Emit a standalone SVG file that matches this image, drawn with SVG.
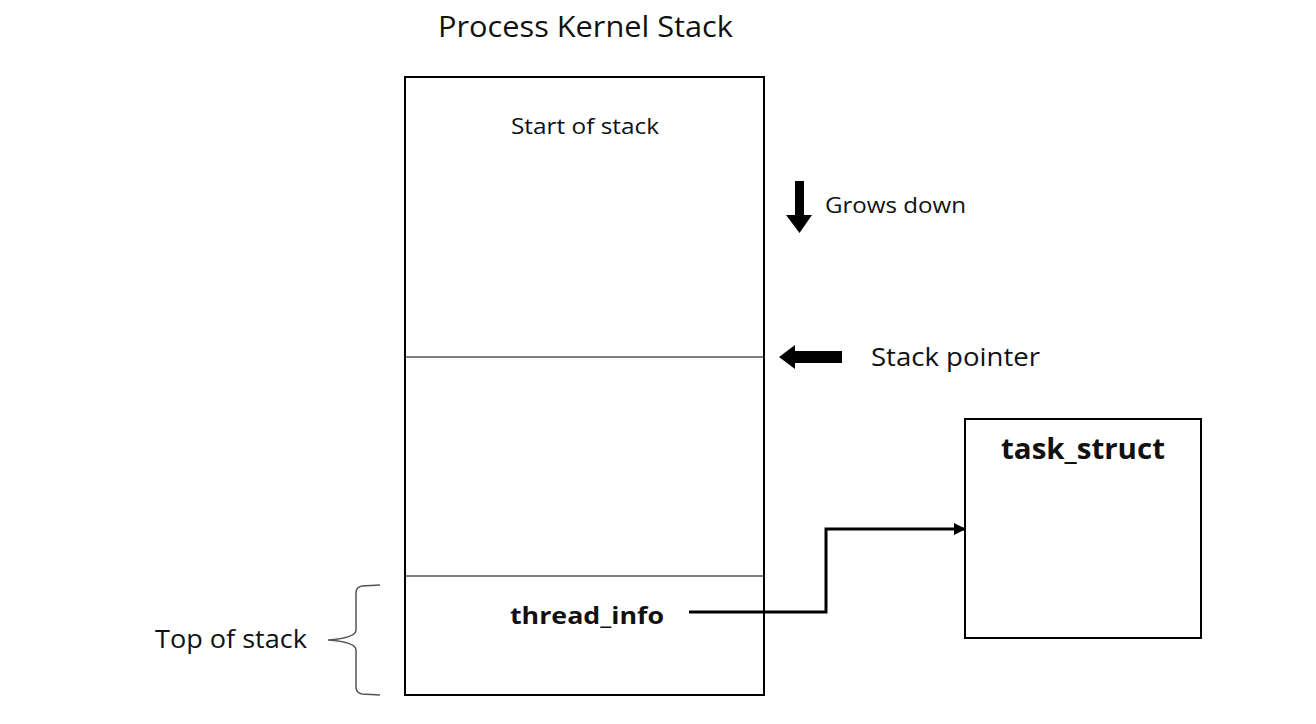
<svg xmlns="http://www.w3.org/2000/svg" width="1316" height="724" viewBox="0 0 1316 724">
<style>
.t{font-family:"Open Sans","Noto Sans","Liberation Sans",sans-serif;fill:#111}
.b{font-weight:bold}
.box{fill:#fff;stroke:#000;stroke-width:2}
.ln{stroke:#000;stroke-width:1.2;fill:none}
</style>
<defs>
<marker id="ah" markerWidth="12" markerHeight="12" refX="11" refY="6" orient="auto" markerUnits="userSpaceOnUse">
<path d="M0,0 L12,6 L0,12 Z" fill="#000"/>
</marker>
</defs>
<rect width="1316" height="724" fill="#fff"/>
<text class="t" x="438" y="37" font-size="30" textLength="295" lengthAdjust="spacingAndGlyphs">Process Kernel Stack</text>
<g id="stack">
<rect class="box" x="405" y="77" width="359" height="618"/>
<line class="ln" x1="405" y1="357" x2="764" y2="357"/>
<line class="ln" x1="405" y1="576" x2="764" y2="576"/>
<text class="t" x="511" y="134" font-size="22" textLength="148" lengthAdjust="spacingAndGlyphs">Start of stack</text>
<text class="t b" x="510" y="624" font-size="24" textLength="154" lengthAdjust="spacingAndGlyphs">thread_info</text>
</g>
<g id="task_struct">
<rect class="box" x="965" y="419" width="236" height="219"/>
<text class="t b" x="1001" y="459" font-size="28" textLength="164" lengthAdjust="spacingAndGlyphs">task_struct</text>
</g>
<g id="grows">
<path d="M795,181 H804 V215 H812 L799.5,233 L786,215 H795 Z" fill="#000"/>
<text class="t" x="825" y="213" font-size="22" textLength="141" lengthAdjust="spacingAndGlyphs">Grows down</text>
</g>
<g id="sp">
<path d="M842,351 V363 H795 V369 L779,357 L795,345 V351 Z" fill="#000"/>
<text class="t" x="871" y="366" font-size="25" textLength="169" lengthAdjust="spacingAndGlyphs">Stack pointer</text>
</g>
<g id="top">
<text class="t" x="155" y="648" font-size="25" textLength="152" lengthAdjust="spacingAndGlyphs">Top of stack</text>
<path d="M380,585 L362,586 Q356,587 356,593 V630 Q356,638 328,640 Q356,642 356,650 V687 Q356,693 362,694 L380,695" stroke="#555" stroke-width="1.5" fill="none"/>
</g>
<g id="connectors">
<path d="M689,612 H826 V529 H965" stroke="#000" stroke-width="3" fill="none" marker-end="url(#ah)"/>
</g>
</svg>
